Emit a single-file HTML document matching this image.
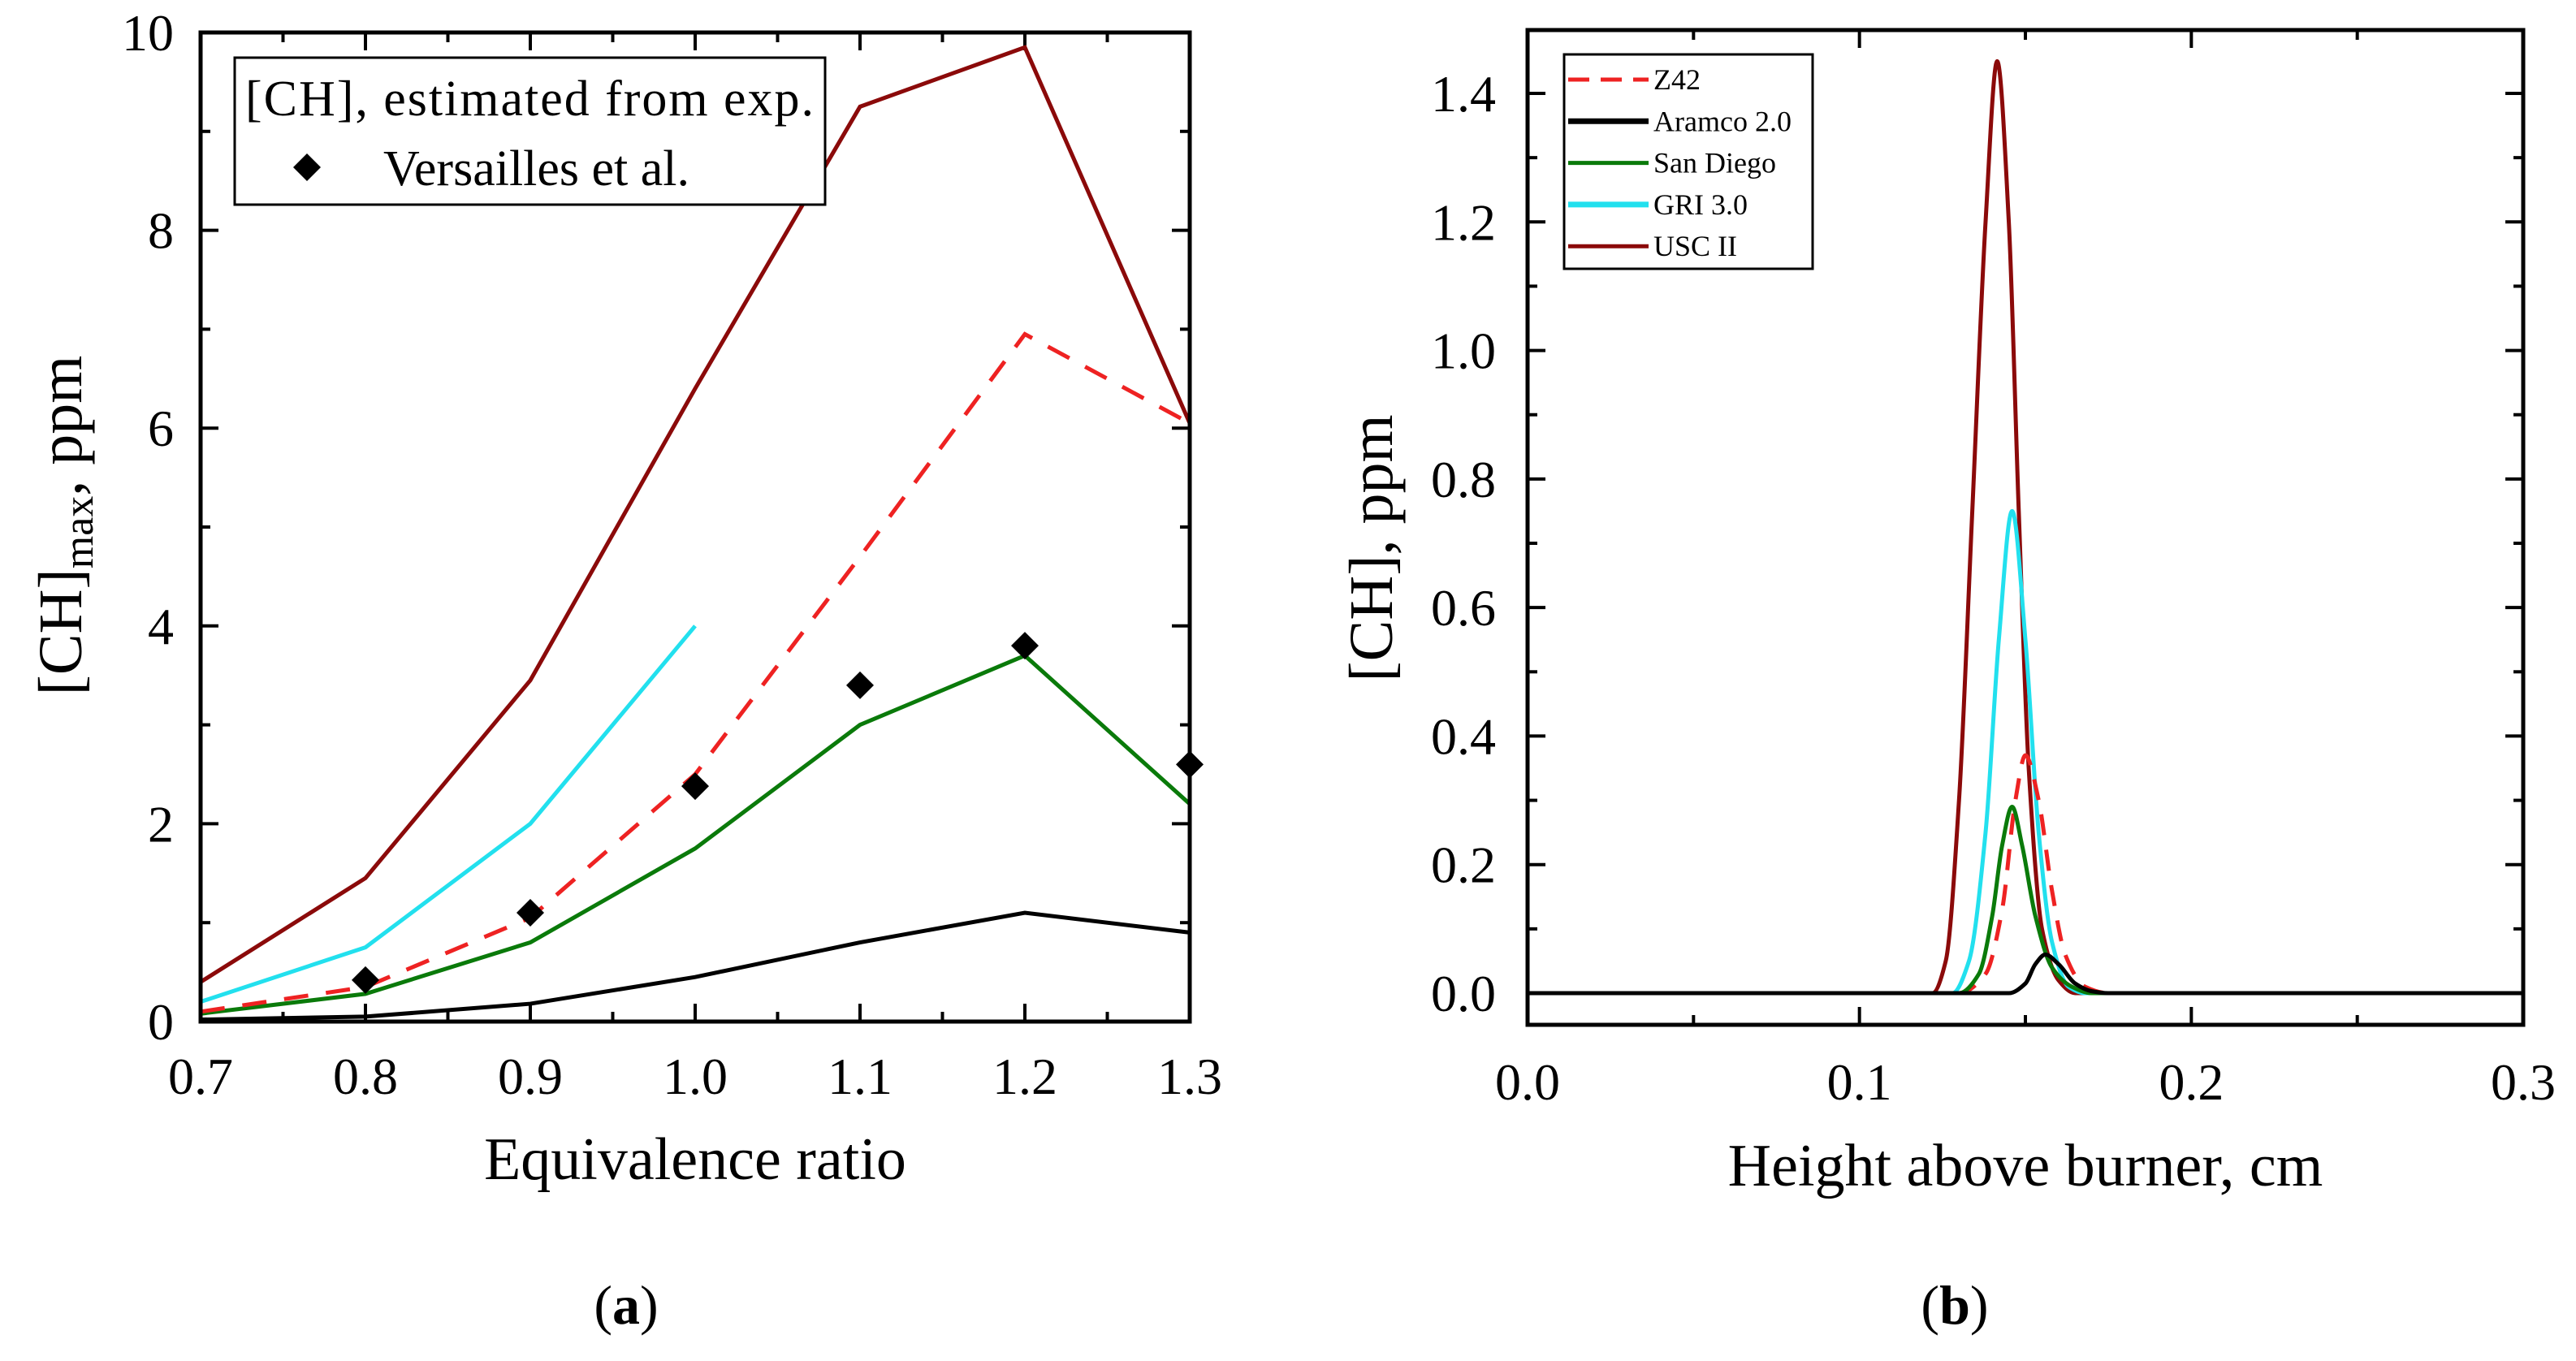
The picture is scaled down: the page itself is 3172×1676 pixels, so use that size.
<!DOCTYPE html>
<html><head><meta charset="utf-8"><style>
html,body{margin:0;padding:0;background:#fff;}
svg{display:block;font-family:"Liberation Serif",serif;}
</style></head><body>
<svg id="fig" width="3172" height="1676" viewBox="0 0 3172 1676" xmlns="http://www.w3.org/2000/svg">
<rect width="3172" height="1676" fill="#fff"/>
<g id="pa"></g>
<g id="pb"></g>
<text x="771" y="1630" font-size="68" text-anchor="middle">(<tspan font-weight="bold">a</tspan>)</text>
<text x="2407" y="1630" font-size="68" text-anchor="middle">(<tspan font-weight="bold">b</tspan>)</text>
</svg>
<script>
const NS='http://www.w3.org/2000/svg';
// ---- Panel A data ----
const phi=[0.7,0.8,0.9,1.0,1.1,1.2,1.3];
const uscA=[0.4,1.45,3.45,6.4,9.25,9.85,6.05];
const z42A=[0.1,0.35,1.05,2.5,4.7,6.95,6.05];
const griPhi=[0.7,0.8,0.9,1.0];
const griA=[0.2,0.75,2.0,4.0];
const sdA=[0.08,0.28,0.8,1.75,3.0,3.7,2.2];
const aramcoA=[0.02,0.05,0.18,0.45,0.8,1.1,0.9];
const expPhi=[0.8,0.9,1.0,1.1,1.2,1.3];
const expA=[0.42,1.1,2.38,3.4,3.8,2.6];
const aXTicks=['0.7','0.8','0.9','1.0','1.1','1.2','1.3'];
const aYTicks=['0','2','4','6','8','10'];
// ---- Panel B data ----
const uscBx=[0.0,0.122,0.126,0.130,0.134,0.138,0.1415,0.145,0.148,0.151,0.155,0.160,0.165,0.3];
const uscBy=[0,0,0.05,0.3,0.75,1.2,1.45,1.2,0.75,0.35,0.1,0.02,0,0];
const griBx=[0.0,0.128,0.133,0.138,0.142,0.146,0.150,0.154,0.158,0.163,0.168,0.3];
const griBy=[0,0,0.05,0.25,0.55,0.75,0.55,0.25,0.08,0.01,0,0];
const z42Bx=[0.0,0.13,0.138,0.143,0.147,0.150,0.154,0.158,0.162,0.168,0.175,0.3];
const z42By=[0,0,0.03,0.13,0.3,0.37,0.3,0.16,0.06,0.01,0,0];
const sdBx=[0.0,0.130,0.136,0.140,0.143,0.146,0.149,0.153,0.158,0.164,0.170,0.3];
const sdBy=[0,0,0.03,0.12,0.23,0.29,0.23,0.12,0.04,0.01,0,0];
const arBx=[0.0,0.145,0.150,0.153,0.156,0.160,0.165,0.170,0.175,0.3];
const arBy=[0,0,0.015,0.045,0.06,0.045,0.015,0.003,0,0];
const bXTicks=['0.0','0.1','0.2','0.3'];
const bYTicks=['0.0','0.2','0.4','0.6','0.8','1.0','1.2','1.4'];

function el(parent,tag,attrs,text){const e=document.createElementNS(NS,tag);for(const k in attrs)e.setAttribute(k,attrs[k]);if(text!=null)e.textContent=text;parent.appendChild(e);return e;}
// monotone cubic (Fritsch-Carlson) in screen coords, x increasing
function monotone(pts){const n=pts.length;const dx=[],m=[],t=new Array(n);
 for(let i=0;i<n-1;i++){dx.push(pts[i+1][0]-pts[i][0]);m.push((pts[i+1][1]-pts[i][1])/dx[i]);}
 t[0]=m[0];t[n-1]=m[n-2];
 for(let i=1;i<n-1;i++){t[i]=(m[i-1]*m[i]<=0)?0:3*(dx[i-1]+dx[i])/((2*dx[i]+dx[i-1])/m[i-1]+(dx[i]+2*dx[i-1])/m[i]);}
 let d='M'+pts[0][0]+','+pts[0][1];
 for(let i=0;i<n-1;i++){const h=dx[i]/3;d+=' C'+(pts[i][0]+h)+','+(pts[i][1]+t[i]*h)+' '+(pts[i+1][0]-h)+','+(pts[i+1][1]-t[i+1]*h)+' '+pts[i+1][0]+','+pts[i+1][1];}
 return d;}

// ===== Panel A =====
const A=document.getElementById('pa');
const aL=247,aR=1465,aT=40,aB=1258;
const ax=v=>aL+(v-0.7)/0.6*(aR-aL);
const ay=v=>aB-(v/10)*(aB-aT);
function lineA(xs,ys,color,name,dash){const p=el(A,'polyline',{points:xs.map((x,i)=>ax(x)+','+ay(ys[i])).join(' '),fill:'none',stroke:color,'stroke-width':5,'stroke-dasharray':dash||'none'});

}
for(let i=0;i<=12;i++){const v=0.7+i*0.05,x=ax(v),len=i%2?12:22;
 el(A,'line',{x1:x,y1:aB,x2:x,y2:aB-len,stroke:'#000','stroke-width':4});
 el(A,'line',{x1:x,y1:aT,x2:x,y2:aT+len,stroke:'#000','stroke-width':4});}
for(let i=0;i<=10;i++){const y=ay(i),len=i%2?12:22;
 el(A,'line',{x1:aL,y1:y,x2:aL+len,y2:y,stroke:'#000','stroke-width':4});
 el(A,'line',{x1:aR,y1:y,x2:aR-len,y2:y,stroke:'#000','stroke-width':4});}
aXTicks.forEach(t=>{const e=el(A,'text',{x:ax(+t),y:1347,'font-size':64,'text-anchor':'middle'},t);

});
aYTicks.forEach(t=>{const e=el(A,'text',{x:214,y:ay(+t)+22,'font-size':64,'text-anchor':'end'},t);

});
lineA(phi,aramcoA,'#000','aramco-line');
lineA(phi,sdA,'#0a7a0a','san-diego-line');
lineA(griPhi,griA,'#22e0ee','gri-line');
lineA(phi,z42A,'#ee2222','z42-line','30 22');
lineA(phi,uscA,'#8b0a0a','usc-line');
expPhi.forEach((p,i)=>{const x=ax(p),y=ay(expA[i]);const d=el(A,'polygon',{points:`${x},${y-17} ${x+17},${y} ${x},${y+17} ${x-17},${y}`,fill:'#000'});

});
el(A,'rect',{x:aL,y:aT,width:aR-aL,height:aB-aT,fill:'none',stroke:'#000','stroke-width':5});
const lgA=el(A,'g',{});


el(lgA,'rect',{x:289,y:71,width:727,height:181,fill:'#fff',stroke:'#000','stroke-width':3});
el(lgA,'text',{x:302,y:142,'font-size':62,textLength:700},'[CH], estimated from exp.');
el(lgA,'polygon',{points:'378,189 395,206 378,223 361,206',fill:'#000'});
el(lgA,'text',{x:472,y:228,'font-size':62},'Versailles et al.');
el(A,'text',{x:856,y:1452,'font-size':74,'text-anchor':'middle'},'Equivalence ratio');
const yt=el(A,'text',{transform:'translate(100,647) rotate(-90)','font-size':76,'text-anchor':'middle'});
yt.innerHTML='[CH]<tspan font-size="52" dy="14">max</tspan><tspan dy="-14">, ppm</tspan>';



// ===== Panel B =====
const B=document.getElementById('pb');
const bL=1881,bR=3107,bT=37,bBot=1262;
const y0=1223,y14=115;
const bx=v=>bL+v/0.3*(bR-bL);
const by=v=>y0-v/1.4*(y0-y14);
for(let i=0;i<=6;i++){const x=bx(i*0.05),len=i%2?12:22;
 el(B,'line',{x1:x,y1:bBot,x2:x,y2:bBot-len,stroke:'#000','stroke-width':4});
 el(B,'line',{x1:x,y1:bT,x2:x,y2:bT+len,stroke:'#000','stroke-width':4});}
for(let i=0;i<=14;i++){const y=by(i*0.1),len=i%2?12:22;
 el(B,'line',{x1:bL,y1:y,x2:bL+len,y2:y,stroke:'#000','stroke-width':4});
 el(B,'line',{x1:bR,y1:y,x2:bR-len,y2:y,stroke:'#000','stroke-width':4});}
bXTicks.forEach(t=>{const e=el(B,'text',{x:bx(+t),y:1354,'font-size':64,'text-anchor':'middle'},t);

});
bYTicks.forEach(t=>{const e=el(B,'text',{x:1842,y:by(+t)+22,'font-size':64,'text-anchor':'end'},t);

});
function lineB(xs,ys,color,name,dash){const p=el(B,'path',{d:monotone(xs.map((x,i)=>[bx(x),by(ys[i])])),fill:'none',stroke:color,'stroke-width':5,'stroke-dasharray':dash||'none'});

}
lineB(uscBx,uscBy,'#8b0a0a','usc-curve');
lineB(griBx,griBy,'#22e0ee','gri-curve');
lineB(z42Bx,z42By,'#ee2222','z42-curve','26 18');
lineB(sdBx,sdBy,'#0a7a0a','san-diego-curve');
lineB(arBx,arBy,'#000','aramco-curve');
el(B,'rect',{x:bL,y:bT,width:bR-bL,height:bBot-bT,fill:'none',stroke:'#000','stroke-width':5});
const lgB=el(B,'g',{});


el(lgB,'rect',{x:1926,y:67,width:306,height:264,fill:'#fff',stroke:'#000','stroke-width':3});
const names=['Z42','Aramco 2.0','San Diego','GRI 3.0','USC II'];
const cols=['#ee2222','#000','#0a7a0a','#22e0ee','#8b0a0a'];
names.forEach((n,i)=>{const y=98+i*51.3;
 el(lgB,'line',{x1:1931,y1:y,x2:2030,y2:y,stroke:cols[i],'stroke-width':i==1||i==3?7:5,'stroke-dasharray':i==0?'26 14':'none'});
 el(lgB,'text',{x:2036,y:y+12,'font-size':36},n);});
el(B,'text',{x:2494,y:1460,'font-size':74,'text-anchor':'middle'},'Height above burner, cm');
const yt2=el(B,'text',{transform:'translate(1714,675) rotate(-90)','font-size':76,'text-anchor':'middle'},'[CH], ppm');


</script>
</body></html>
